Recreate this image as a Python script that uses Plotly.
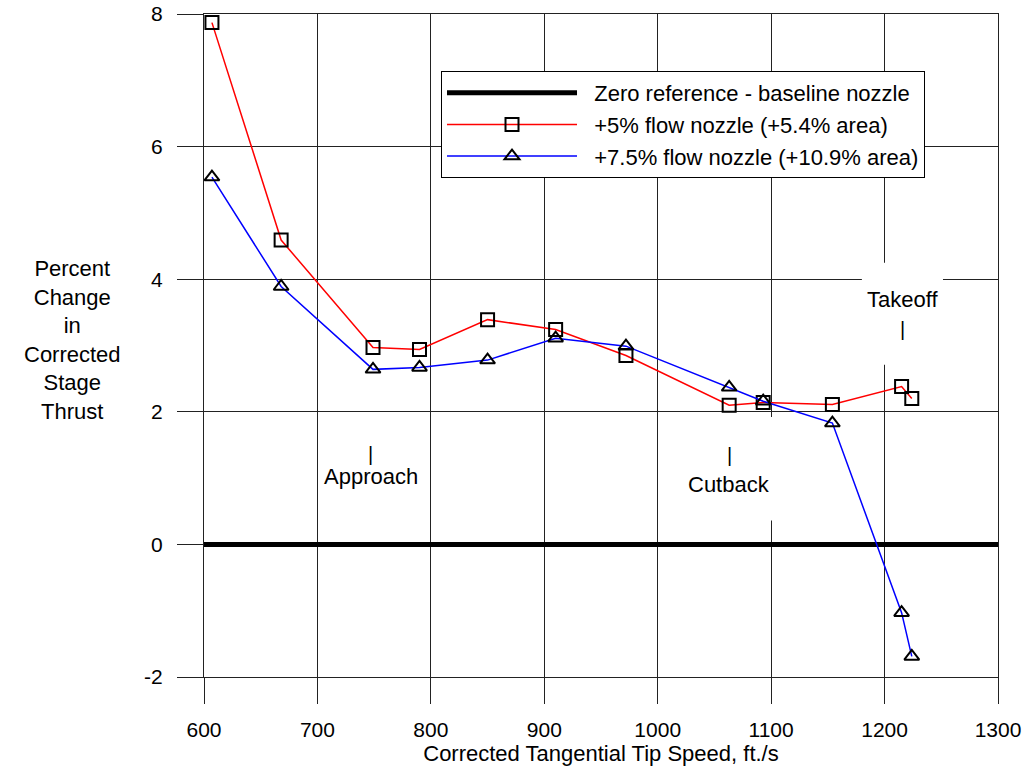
import plotly.graph_objects as go

# Data
tip_speed = [607, 668, 749, 790, 850, 910, 972, 1063, 1093, 1154, 1215, 1224]
flow5_thrust = [7.87, 4.59, 2.97, 2.94, 3.39, 3.24, 2.85, 2.10, 2.14, 2.11, 2.38, 2.20]
flow75_thrust = [5.54, 3.89, 2.64, 2.67, 2.78, 3.11, 2.99, 2.37, 2.16, 1.83, -1.03, -1.69]
zero_x = [600, 1300]
zero_y = [0, 0]

x_ticks = [600, 700, 800, 900, 1000, 1100, 1200, 1300]
y_ticks = [-2, 0, 2, 4, 6, 8]
y_tick_labels = ["-2", "0", "2", "4", "6", "8"]

# Operating-point labels: (text, x, y of tick mark, y of text)
op_labels = [
    ("Approach", 747, 1.37, 1.02),
    ("Cutback", 1063, 1.35, 0.91),
    ("Takeoff", 1216, 3.25, 3.70),
]

FONT = "Liberation Sans, Arial, sans-serif"
PAD = "\u00a0\u00a0"

fig = go.Figure()
fig.add_trace(go.Scatter(
    x=zero_x, y=zero_y, mode="lines",
    line=dict(color="black", width=5),
    name=PAD + "Zero reference - baseline nozzle"))
fig.add_trace(go.Scatter(
    x=tip_speed, y=flow5_thrust, mode="lines+markers",
    line=dict(color="#ff0000", width=1.5),
    marker=dict(symbol="square-open", size=13, color="black", line=dict(width=2)),
    name=PAD + "+5% flow nozzle (+5.4% area)"))
fig.add_trace(go.Scatter(
    x=tip_speed, y=flow75_thrust, mode="lines+markers",
    line=dict(color="#0000ff", width=1.5),
    marker=dict(symbol="triangle-up-open", size=13, color="black", line=dict(width=2)),
    name=PAD + "+7.5% flow nozzle (+10.9% area)"))

# White boxes behind labels (hide grid lines, not data)
fig.add_shape(type="rect", x0=1024, x1=1104, y0=0.36, y1=1.92, xref="x", yref="y",
              fillcolor="white", line=dict(width=0), layer="between")
fig.add_shape(type="rect", x0=1180, x1=1251.5, y0=2.71, y1=4.25, xref="x", yref="y",
              fillcolor="white", line=dict(width=0), layer="between")

for text, x, ybar, ytxt in op_labels:
    fig.add_annotation(x=x, y=ybar, xref="x", yref="y", text="|", showarrow=False,
                       font=dict(family=FONT, size=20, color="black"))
    fig.add_annotation(x=x, y=ytxt, xref="x", yref="y", text=text, showarrow=False,
                       font=dict(family=FONT, size=22, color="black"))

fig.add_annotation(x=-0.166, y=0.508, xref="paper", yref="paper",
                   xanchor="center", yanchor="middle",
                   text="Percent<br>Change<br>in<br>Corrected<br>Stage<br>Thrust",
                   showarrow=False, align="center",
                   font=dict(family=FONT, size=22, color="black"))

axis_common = dict(
    showgrid=True, gridcolor="#222222", gridwidth=1,
    showline=True, linecolor="#222222", linewidth=1, mirror=True,
    ticks="outside", ticklen=26, tickcolor="#222222", tickwidth=1,
    zeroline=False, automargin=False,
    tickfont=dict(family=FONT, size=21, color="black"),
)

fig.update_xaxes(range=[600, 1300], tickvals=x_ticks, ticklabelstandoff=8,
                 title=dict(text="Corrected Tangential Tip Speed, ft./s",
                            font=dict(family=FONT, size=22, color="black"), standoff=2),
                 **axis_common)
fig.update_yaxes(range=[-2, 8], tickvals=y_ticks, ticktext=y_tick_labels,
                 ticklabelstandoff=10, **axis_common)

fig.update_layout(
    width=1026, height=769,
    margin=dict(l=204, r=28, t=14, b=92, autoexpand=False),
    paper_bgcolor="white", plot_bgcolor="white",
    font=dict(family=FONT, color="black"),
    showlegend=True,
    legend=dict(x=0.2985, y=0.914, xanchor="left", yanchor="top",
                bgcolor="white", bordercolor="black", borderwidth=1,
                font=dict(family=FONT, size=22, color="black"),
                itemwidth=130, tracegroupgap=0),
)

fig.write_html("out.html", config={"displayModeBar": False},
               post_script="document.body.style.margin='0';document.body.style.padding='0';")
